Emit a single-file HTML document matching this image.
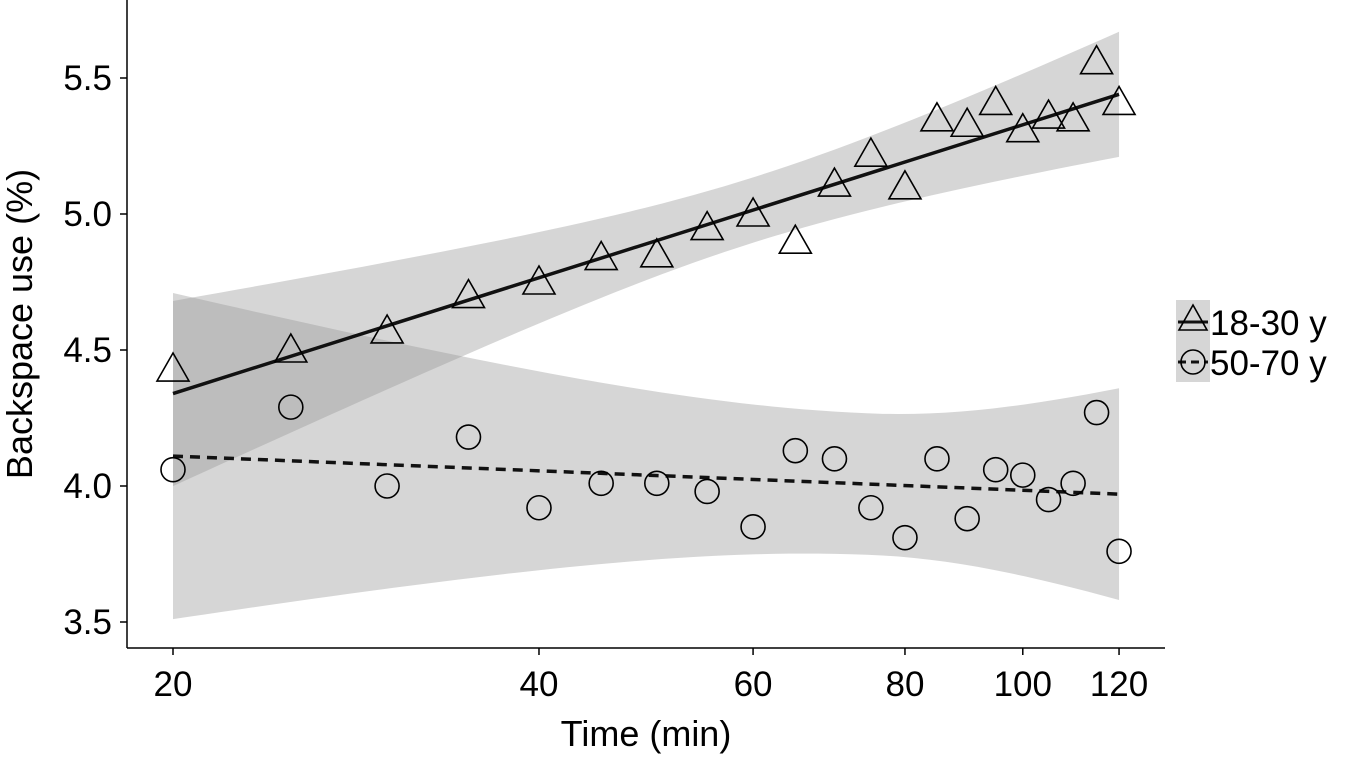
<!DOCTYPE html>
<html><head><meta charset="utf-8"><style>
body{margin:0;background:#fff;width:1347px;height:758px;overflow:hidden}
svg text{font-family:"Liberation Sans",sans-serif;fill:#000}
</style></head><body>
<svg id="c" width="1347" height="758"></svg>
<script>
const xTicks=[20,40,60,80,100,120];
const yTicks=[3.5,4.0,4.5,5.0,5.5];
const times=[20,25,30,35,40,45,50,55,60,65,70,75,80,85,90,95,100,105,110,115,120];
const young=[4.43,4.50,4.57,4.70,4.75,4.84,4.85,4.95,5.00,4.90,5.11,5.22,5.10,5.35,5.33,5.41,5.31,5.36,5.35,5.56,5.41];
const old=[4.06,4.29,4.00,4.18,3.92,4.01,4.01,3.98,3.85,4.13,4.10,3.92,3.81,4.10,3.88,4.06,4.04,3.95,4.01,4.27,3.76];
const youngFit=[4.34,5.44];
const oldFit=[4.11,3.97];
const youngBand=[0.12,60,0.084,0.08];
const oldBand=[0.26,75,0.167,0.38];
const X=v=>173+528*Math.log(v/20);
const Y=v=>486-272*(v-4.0);
const NS='http://www.w3.org/2000/svg';
const svg=document.getElementById('c');
function el(t,a,p){const e=document.createElementNS(NS,t);for(const k in a)e.setAttribute(k,a[k]);(p||svg).appendChild(e);return e;}
function fit(f,v){const t=Math.log(v/20)/Math.log(6);return f[0]+(f[1]-f[0])*t;}
function hw(b,v){const d=Math.log(v/b[1]);const k=d<0?b[2]:b[3];return Math.sqrt(b[0]*b[0]+k*d*d);}
function band(f,b,name){let up=[],lo=[];for(let i=0;i<=60;i++){const v=20*Math.pow(6,i/60);const m=fit(f,v),h=hw(b,v);up.push(X(v)+','+Y(m+h));lo.unshift(X(v)+','+Y(m-h));}
const p=el('polygon',{points:up.concat(lo).join(' '),fill:'#999',opacity:0.4});

}
band(youngFit,youngBand,'ribbon-18-30');
band(oldFit,oldBand,'ribbon-50-70');
let l1=el('line',{x1:X(20),y1:Y(youngFit[0]),x2:X(120),y2:Y(youngFit[1]),stroke:'#111','stroke-width':3.5});


let l2=el('line',{x1:X(20),y1:Y(oldFit[0]),x2:X(120),y2:Y(oldFit[1]),stroke:'#111','stroke-width':3.5,'stroke-dasharray':'10,7'});


times.forEach((t,i)=>{const x=X(t),y=Y(young[i]);
const tr=el('polygon',{points:`${x},${y-16} ${x-16},${y+12} ${x+16},${y+12}`,fill:'none',stroke:'#000','stroke-width':1.6});


const c=el('circle',{cx:x,cy:Y(old[i]),r:12,fill:'none',stroke:'#000','stroke-width':1.6});

});
let ya=el('line',{x1:127,y1:0,x2:127,y2:648,stroke:'#000','stroke-width':1.5});


let xa=el('line',{x1:127,y1:648,x2:1165,y2:648,stroke:'#000','stroke-width':1.5});


yTicks.forEach(v=>{el('line',{x1:120,y1:Y(v),x2:127,y2:Y(v),stroke:'#000','stroke-width':1.5});
const t=el('text',{x:112,y:Y(v)+12,'font-size':35,'text-anchor':'end'});t.textContent=v.toFixed(1);

});
xTicks.forEach(v=>{el('line',{x1:X(v),y1:648,x2:X(v),y2:655,stroke:'#000','stroke-width':1.5});
const t=el('text',{x:X(v),y:696,'font-size':35,'text-anchor':'middle'});t.textContent=v;

});
let xt=el('text',{x:646,y:746,'font-size':36,'text-anchor':'middle'});xt.textContent='Time (min)';


let yt=el('text',{x:0,y:0,'font-size':36,'text-anchor':'middle',transform:'translate(32,324) rotate(-90)'});yt.textContent='Backspace use (%)';


const lg=el('g',{});


el('rect',{x:1176,y:300,width:34,height:82,fill:'#d6d6d6'},lg);
el('line',{x1:1178,y1:322,x2:1208,y2:322,stroke:'#111','stroke-width':3},lg);
el('polygon',{points:'1193,305 1179,330 1207,330',fill:'none',stroke:'#000','stroke-width':1.6},lg);
el('line',{x1:1178,y1:362,x2:1208,y2:362,stroke:'#111','stroke-width':3,'stroke-dasharray':'8,5'},lg);
el('circle',{cx:1193,cy:362,r:12,fill:'none',stroke:'#000','stroke-width':1.6},lg);
const a=el('text',{x:1210,y:335,'font-size':35},lg);a.textContent='18-30 y';


const b=el('text',{x:1210,y:375,'font-size':35},lg);b.textContent='50-70 y';


</script>
</body></html>
